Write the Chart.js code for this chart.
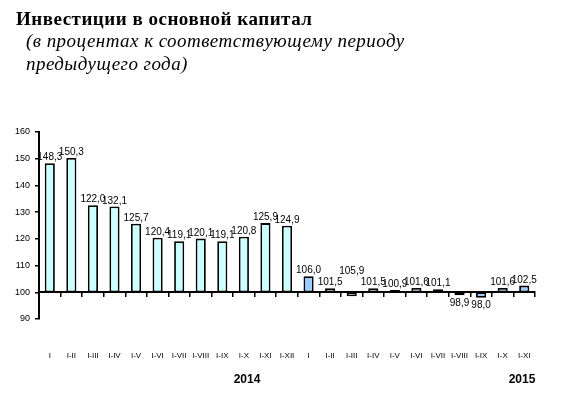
<!DOCTYPE html>
<html>
<head>
<meta charset="utf-8">
<script src="https://cdn.jsdelivr.net/npm/chart.js@4/dist/chart.umd.min.js"></script>
<style>
  html, body { margin: 0; padding: 0; background: #fff; }
  #wrap { position: relative; width: 563px; height: 395px; overflow: hidden; }
  #c { position: absolute; left: 0; top: 0; }
  .t { position: absolute; white-space: nowrap; color: #000; line-height: 1; }
  #title { left: 16px; top: 7.5px; font: bold 19px "Liberation Serif", "Times New Roman", serif; letter-spacing: 0.5px; }
  #sub1 { left: 26px; top: 30px; font: italic 19px "Liberation Serif", "Times New Roman", serif; letter-spacing: 0.45px; }
  #sub2 { left: 26px; top: 52.5px; font: italic 19px "Liberation Serif", "Times New Roman", serif; letter-spacing: 0.45px; }
  .yr { font: bold 12px "Liberation Sans", Arial, sans-serif; transform: translateX(-50%); top: 372px; line-height: normal; }
</style>
</head>
<body>
<div id="wrap">
  <canvas id="c" width="563" height="395"></canvas>
  <div class="t" id="title">Инвестиции в основной капитал</div>
  <div class="t" id="sub1">(в процентах к соответствующему периоду</div>
  <div class="t" id="sub2">предыдущего года)</div>
  <div class="t yr" style="left:247px">2014</div>
  <div class="t yr" style="left:522px">2015</div>
</div>
<script>
// Categories (periods)
const categories2014 = ["I","I-II","I-III","I-IV","I-V","I-VI","I-VII","I-VIII","I-IX","I-X","I-XI","I-XII"];
const categories2015 = ["I","I-II","I-III","I-IV","I-V","I-VI","I-VII","I-VIII","I-IX","I-X","I-XI"];
// Bar heights as drawn in the picture
const values2014 = [148.3, 150.3, 132.6, 132.1, 125.7, 120.4, 119.1, 120.1, 119.1, 120.8, 125.9, 124.9];
const values2015 = [106.0, 101.5, 98.5, 101.5, 100.9, 101.6, 101.1, 98.9, 98.0, 101.6, 102.5];
// Value labels as printed in the picture
const labels2014 = ["148,3","150,3","122,0","132,1","125,7","120,4","119,1","120,1","119,1","120,8","125,9","124,9"];
const labels2015 = ["106,0","101,5","105,9","101,5","100,9","101,6","101,1","98,9","98,0","101,6","102,5"];
// Y ticks
const yTicks = [90, 100, 110, 120, 130, 140, 150, 160];
const baseValue = 100;

const categories = categories2014.concat(categories2015);
const n14 = categories2014.length;
const allValues = values2014.concat(values2015);
const allLabels = labels2014.concat(labels2015);
const data14 = categories.map((c, i) => i < n14 ? [baseValue, allValues[i]] : null);
const data15 = categories.map((c, i) => i >= n14 ? [baseValue, allValues[i]] : null);

const valueLabelPlugin = {
  id: 'valueLabels',
  afterDatasetsDraw(chart) {
    const ctx = chart.ctx;
    const ys = chart.scales.y;
    ctx.save();
    ctx.fillStyle = '#000';
    ctx.font = '10px "Liberation Sans", Arial, sans-serif';
    ctx.textAlign = 'center';
    chart.data.datasets.forEach((ds, di) => {
      const meta = chart.getDatasetMeta(di);
      meta.data.forEach((el, i) => {
        if (ds.data[i] == null) return;
        const txt = allLabels[i];
        const lv = parseFloat(txt.replace(',', '.'));
        const basePx = ys.getPixelForValue(baseValue);
        if (lv >= baseValue) {
          const top = Math.min(el.y, basePx, ys.getPixelForValue(lv));
          ctx.textBaseline = 'alphabetic';
          ctx.fillText(txt, el.x, top - 3);
        } else {
          const bottom = Math.max(el.y, basePx, ys.getPixelForValue(lv));
          ctx.textBaseline = 'top';
          ctx.fillText(txt, el.x, bottom + 3);
        }
      });
    });
    ctx.restore();
  }
};

new Chart(document.getElementById('c'), {
  type: 'bar',
  data: {
    labels: categories,
    datasets: [
      { label: '2014', data: data14, backgroundColor: '#CCFFFF', borderColor: '#000', borderWidth: 1.8, borderSkipped: false, xAxisID: 'x', grouped: false },
      { label: '2015', data: data15, backgroundColor: '#99CCFF', borderColor: '#000', borderWidth: 1.8, borderSkipped: false, xAxisID: 'x', grouped: false }
    ]
  },
  options: {
    responsive: false,
    animation: false,
    devicePixelRatio: 1,
    layout: { padding: { top: 132, right: 25, bottom: 0, left: 0 } },
    plugins: { legend: { display: false }, tooltip: { enabled: false }, title: { display: false } },
    datasets: { bar: { categoryPercentage: 1, barPercentage: 0.47 } },
    scales: {
      x: {
        type: 'category',
        position: 'bottom',
        offset: true,
        border: { display: false },
        grid: { display: false, drawTicks: false },
        ticks: { color: '#000', font: { size: 8, family: '"Liberation Sans", Arial, sans-serif' }, padding: 32, autoSkip: false, maxRotation: 0, minRotation: 0 },
        afterFit(s) { s.height = 76; }
      },
      xLine: {
        type: 'category',
        position: { y: baseValue },
        offset: true,
        border: { display: true, color: '#000', width: 2 },
        grid: { display: true, offset: true, drawOnChartArea: false, drawTicks: true, tickLength: 4, color: '#000', lineWidth: 1.5 },
        ticks: { display: false }
      },
      y: {
        type: 'linear',
        min: 90,
        max: 160,
        afterBuildTicks(s) { s.ticks = yTicks.map(v => ({ value: v })); },
        border: { display: true, color: '#000', width: 2 },
        grid: { display: true, drawOnChartArea: false, drawTicks: true, tickLength: 4, color: '#000', lineWidth: 1.5 },
        ticks: { color: '#000', font: { size: 9, family: '"Liberation Sans", Arial, sans-serif' }, padding: 5 },
        afterFit(s) { s.width = 39; }
      }
    }
  },
  plugins: [valueLabelPlugin]
});
</script>
</body>
</html>
